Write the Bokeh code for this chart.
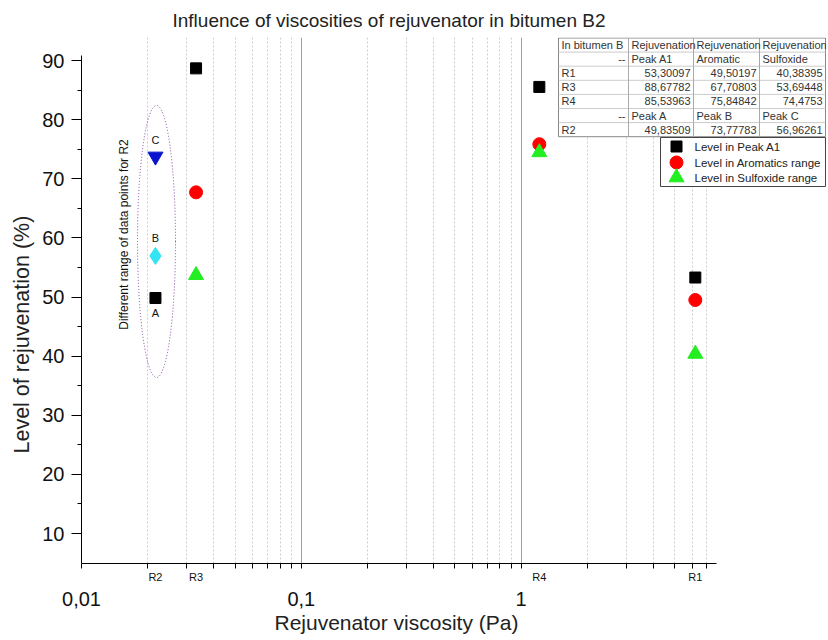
import numpy as np
from bokeh.plotting import figure
from bokeh.models import Range1d, LogAxis, FixedTicker, Grid, CustomJSTickFormatter, Title
from bokeh.core.properties import value
from bokeh.embed import file_html
from bokeh.resources import INLINE

# ---------------- data ----------------
rejuvenators = ["R1", "R3", "R4"]
viscosity = [6.2, 0.0332, 1.21]          # Pa
peak_a1 = [53.30097, 88.67782, 85.53963]
aromatic = [49.50197, 67.70803, 75.84842]
sulfoxide = [40.38395, 53.69448, 74.4753]

r2_name = "R2"
r2_viscosity = 0.0217
r2_point_labels = ["A", "B", "C"]
r2_point_values = [49.83509, 56.96261, 73.77783]
r2_table_headers = ["Peak A", "Peak B", "Peak C"]
r2_table_values = [49.83509, 73.77783, 56.96261]

table_head = ["In bitumen B", "Rejuvenation", "Rejuvenation", "Rejuvenation"]
table_sub = ["--", "Peak A1", "Aromatic", "Sulfoxide"]

legend_labels = ["Level in Peak A1", "Level in Aromatics range", "Level in Sulfoxide range"]

x_major_ticks = [0.01, 0.1, 1]
y_major_ticks = [10, 20, 30, 40, 50, 60, 70, 80, 90]
y_minor_ticks = [15, 25, 35, 45, 55, 65, 75, 85]

title_text = "Influence of viscosities of rejuvenator in bitumen B2"
x_label = "Rejuvenator viscosity (Pa)"
y_label = "Level of rejuvenation (%)"
ellipse_note = "Different range of data points for R2"

# ---------------- layout ----------------
FONT = "Liberation Sans"
W, H = 828, 640
FL, FR, FT, FB = 81, 826, 37, 563
X_START, X_END = 0.01, 24.5
Y_START, Y_END = 4.93, 93.9
X_AXIS_END = 7.76
Y_AXIS_END = 90.85

minor_x = [m * 10.0 ** e for e in (-2, -1, 0) for m in range(2, 10) if m * 10.0 ** e < X_AXIS_END]
decades = [0.01, 0.1, 1.0]


def dx(px):
    lo, hi = np.log10(X_START), np.log10(X_END)
    return float(10 ** (lo + (px - FL) / (FR - FL) * (hi - lo)))


def dy(py):
    return float(Y_START + (FB - py) / (FB - FT) * (Y_END - Y_START))


p = figure(width=W, height=H, x_axis_type="log", x_axis_location=None,
           x_range=Range1d(X_START, X_END), y_range=Range1d(Y_START, Y_END),
           output_backend="svg", toolbar_location=None,
           min_border_left=FL, min_border_right=W - FR,
           min_border_top=FT, min_border_bottom=H - FB)
p.outline_line_color = None
p.grid.visible = False
p.background_fill_color = "white"

p.title.text = title_text
p.title.align = "left"
p.title.offset = 91
p.title.text_font = FONT
p.title.text_font_size = "19px"
p.title.text_font_style = "normal"
p.title.text_color = "#222222"
p.title.standoff = 14

# y axis
ya = p.yaxis[0]
ya.ticker = FixedTicker(ticks=y_major_ticks, minor_ticks=y_minor_ticks)
ya.bounds = (Y_START, Y_AXIS_END)
ya.major_label_text_font = FONT
ya.major_label_text_font_size = "20px"
ya.major_label_text_color = "#111111"
ya.major_label_standoff = 7
ya.major_tick_out = 10
ya.major_tick_in = 0
ya.minor_tick_out = 4
ya.minor_tick_in = 0
ya.axis_line_color = "black"

# inner x axis: rejuvenator names
xs_sorted = sorted([r2_viscosity] + viscosity)
name_of = {v: n for v, n in zip(viscosity + [r2_viscosity], rejuvenators + [r2_name])}
names_sorted = [name_of[v] for v in xs_sorted]
axA = LogAxis(ticker=FixedTicker(ticks=xs_sorted, minor_ticks=decades + minor_x),
              bounds=(X_START, X_AXIS_END),
              formatter=CustomJSTickFormatter(args=dict(names=names_sorted), code="return names[index];"),
              major_tick_out=0, major_tick_in=0, minor_tick_out=5, minor_tick_in=0,
              major_label_standoff=2, major_label_text_font=FONT,
              major_label_text_font_size="11px", major_label_text_color="#111111",
              axis_line_color="black")
# outer x axis: decade labels
axB = LogAxis(ticker=FixedTicker(ticks=x_major_ticks, minor_ticks=[]),
              bounds=(X_START, X_AXIS_END),
              formatter=CustomJSTickFormatter(code="return tick.toString().replace('.', ',');"),
              axis_line_color=None, major_tick_line_color=None, minor_tick_line_color=None,
              major_tick_out=0, major_tick_in=0, minor_tick_out=0, minor_tick_in=0,
              major_label_standoff=6, major_label_text_font=FONT,
              major_label_text_font_size="20px", major_label_text_color="#111111")
p.add_layout(axA, "below")
p.add_layout(axB, "below")

# axis titles (positioned along the drawn axis extent)
p.add_layout(Title(text=x_label, align="left", offset=193, standoff=0,
                   text_font=FONT, text_font_size="21px", text_font_style="normal",
                   text_color="#222222"), "below")
p.add_layout(Title(text=y_label, align="left", offset=110, standoff=11,
                   text_font=FONT, text_font_size="21.5px", text_font_style="normal",
                   text_color="#222222"), "left")

# grids
p.add_layout(Grid(dimension=0, ticker=FixedTicker(ticks=minor_x),
                  grid_line_color="#cccccc", grid_line_dash="2 2", grid_line_width=1))
p.add_layout(Grid(dimension=0, ticker=FixedTicker(ticks=[0.1, 1.0]),
                  grid_line_color="#a0a0a0", grid_line_width=1))

# main data
p.scatter(viscosity, peak_a1, marker="square", size=11, color="black")
p.scatter(viscosity, aromatic, marker="circle", size=13, color="#ff0000")
p.scatter(viscosity, sulfoxide, marker="triangle", size=15, color="#22ee22")

# R2 points
r2x = [r2_viscosity] * 3
p.scatter(r2x, r2_point_values, marker=["square", "diamond", "inverted_triangle"],
          size=[11, 17, 15], color=["black", "#33e4f4", "#0a14d0"])
p.text(r2x, r2_point_values, text=r2_point_labels, y_offset=[15, -18, -16],
       text_align="center", text_baseline="middle", text_font=value(FONT),
       text_font_size="11px", text_color="#111111")

# ellipse annotation
p.ellipse(x=[dx(156)], y=[dy(241)], width=38, height=272, width_units="screen",
          height_units="screen", fill_color=None, line_color="#8040a0",
          line_dash="1 2", line_width=1)
p.text([dx(123)], [dy(234)], text=[ellipse_note], angle=np.pi / 2,
       text_align="center", text_baseline="middle", text_font=value(FONT),
       text_font_size="12px", text_color="#111111")

# ---------------- table ----------------
col_b = [558, 628, 693, 759, 825]
row_h = 14.1
row_b = [37.5 + row_h * i for i in range(8)]
p.quad(left=[dx(col_b[0])], right=[dx(col_b[-1])], top=[dy(row_b[0])], bottom=[dy(row_b[-1])],
       fill_color="white", line_color="#888888", line_width=1)
p.segment(x0=[dx(col_b[0])] * 6, x1=[dx(col_b[-1])] * 6,
          y0=[dy(r) for r in row_b[1:-1]], y1=[dy(r) for r in row_b[1:-1]],
          line_color="#cccccc", line_width=1)
p.segment(x0=[dx(c) for c in col_b[1:-1]], x1=[dx(c) for c in col_b[1:-1]],
          y0=[dy(row_b[0])] * 3, y1=[dy(row_b[-1])] * 3, line_color="#aaaaaa", line_width=1)


def fmt(v):
    return f"{v}".replace(".", ",")


rows = [table_head, table_sub]
rows += [[n, fmt(a), fmt(b), fmt(c)] for n, a, b, c in zip(rejuvenators, peak_a1, aromatic, sulfoxide)]
rows += [["--"] + r2_table_headers]
rows += [[r2_name] + [fmt(v) for v in r2_table_values]]
tx_l, ty_l, tt_l, tx_r, ty_r, tt_r = [], [], [], [], [], []
for i, row in enumerate(rows):
    cy = dy(row_b[i] + row_h / 2)
    for j, s in enumerate(row):
        numeric = s[:1].isdigit()
        if numeric or s == "--":
            tx_r.append(dx(col_b[j + 1] - 3)); ty_r.append(cy); tt_r.append(s)
        else:
            tx_l.append(dx(col_b[j] + 3)); ty_l.append(cy); tt_l.append(s)
p.text(tx_l, ty_l, text=tt_l, text_align="left", text_baseline="middle",
       text_font=value(FONT), text_font_size="11px", text_color="#333333")
p.text(tx_r, ty_r, text=tt_r, text_align="right", text_baseline="middle",
       text_font=value(FONT), text_font_size="11px", text_color="#333333")

# ---------------- legend ----------------
lg_l, lg_r, lg_t, lg_b = 660, 825, 137, 186
p.quad(left=[dx(lg_l)], right=[dx(lg_r)], top=[dy(lg_t)], bottom=[dy(lg_b)],
       fill_color="white", line_color="#444444", line_width=1)
lg_rows = [146, 162, 177]
p.scatter([dx(676)] * 3, [dy(r) for r in lg_rows], marker=["square", "circle", "triangle"],
          size=[11, 13, 15], color=["black", "#ff0000", "#22ee22"])
p.text([dx(694)] * 3, [dy(r) for r in lg_rows], text=legend_labels, text_align="left",
       text_baseline="middle", text_font=value(FONT), text_font_size="11.5px",
       text_color="#222222")

open("out.html", "w").write(file_html(p, INLINE))
